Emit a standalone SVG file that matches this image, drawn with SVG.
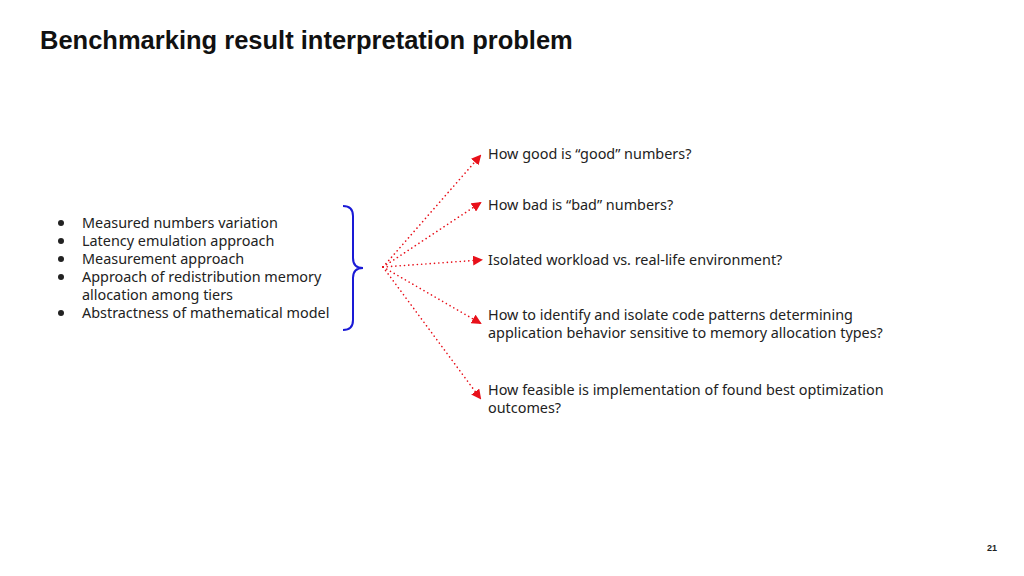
<svg xmlns="http://www.w3.org/2000/svg" width="1024" height="576" viewBox="0 0 1024 576">
<style>
.t{font-family:"Noto Sans","Open Sans",sans-serif;font-size:14.4px;fill:#222}
.title{font-family:"Liberation Sans",Arial,sans-serif;font-size:25.5px;font-weight:bold;fill:#111}
.c{fill:none;stroke:#e8101a;stroke-width:1.6;stroke-dasharray:0.1 4.2;stroke-linecap:round}
</style>
<defs>
<marker id="ah" viewBox="0 0 10 10" refX="8" refY="5" markerWidth="10" markerHeight="10" markerUnits="userSpaceOnUse" orient="auto">
<path d="M0,0 L10,5 L0,10 z" fill="#e8101a"/>
</marker>
</defs>
<rect width="1024" height="576" fill="#fff"/>
<text class="title" x="40" y="49">Benchmarking result interpretation problem</text>
<g id="bullets">
<g class="t">
<circle cx="61" cy="223" r="3" fill="#222"/><text x="82" y="228">Measured numbers variation</text>
<circle cx="61" cy="241" r="3" fill="#222"/><text x="82" y="246">Latency emulation approach</text>
<circle cx="61" cy="259" r="3" fill="#222"/><text x="82" y="264">Measurement approach</text>
<circle cx="61" cy="277" r="3" fill="#222"/><text x="82" y="282">Approach of redistribution memory</text>
<text x="82" y="300">allocation among tiers</text>
<circle cx="61" cy="313" r="3" fill="#222"/><text x="82" y="318">Abstractness of mathematical model</text>
</g>
</g>
<g id="brace">
<path d="M343,206 Q353,206 353,216 L353,258 Q353,268 363,268 Q353,268 353,278 L353,320 Q353,330 343,330" fill="none" stroke="#1a1ad6" stroke-width="2"/>
</g>
<g id="connectors">
<line class="c" x1="383" y1="267" x2="480" y2="156" marker-end="url(#ah)"/>
<line class="c" x1="383" y1="267" x2="480" y2="203" marker-end="url(#ah)"/>
<line class="c" x1="383" y1="267" x2="481" y2="260" marker-end="url(#ah)"/>
<line class="c" x1="383" y1="267" x2="480" y2="323" marker-end="url(#ah)"/>
<line class="c" x1="383" y1="267" x2="480" y2="398" marker-end="url(#ah)"/>
</g>
<g id="q1"><text class="t" x="488" y="159">How good is “good” numbers?</text></g>
<g id="q2"><text class="t" x="488" y="210">How bad is “bad” numbers?</text></g>
<g id="q3"><text class="t" x="488" y="265">Isolated workload vs. real-life environment?</text></g>
<g id="q4"><text class="t" x="488" y="320">How to identify and isolate code patterns determining</text><text class="t" x="488" y="338">application behavior sensitive to memory allocation types?</text></g>
<g id="q5"><text class="t" x="488" y="395">How feasible is implementation of found best optimization</text><text class="t" x="488" y="413">outcomes?</text></g>
<text x="992" y="551" text-anchor="middle" font-family="Liberation Sans,Arial,sans-serif" font-size="9" font-weight="bold" fill="#222">21</text>
</svg>
